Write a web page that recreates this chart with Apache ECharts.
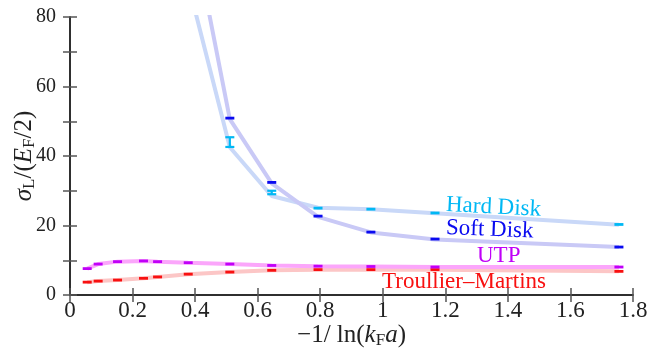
<!DOCTYPE html>
<html>
<head>
<meta charset="utf-8">
<script src="https://cdn.jsdelivr.net/npm/echarts@6/dist/echarts.min.js"></script>
<style>html,body{margin:0;padding:0;background:#fff;}#c{width:658px;height:351px;}</style>
</head>
<body>
<div id="c"></div>
<script>
// ---- data ----
var xTicks = [0, 0.2, 0.4, 0.6, 0.8, 1, 1.2, 1.4, 1.6, 1.8];
var yTicks = [0, 20, 40, 60, 80];

var xPseudo = [0.055, 0.090, 0.152, 0.235, 0.280, 0.378, 0.511, 0.645, 0.793, 0.962, 1.167, 1.755];
var utpVals = [7.6, 8.9, 9.6, 9.8, 9.6, 9.3, 8.9, 8.5, 8.3, 8.2, 8.05, 8.05];
var tmVals  = [3.7, 4.0, 4.3, 4.8, 5.2, 6.0, 6.6, 7.1, 7.3, 7.3, 7.3, 6.8];

var xDisk = [0.511, 0.645, 0.793, 0.962, 1.167, 1.755];
var hardVals = [44.0, 29.5, 25.0, 24.7, 23.6, 20.3];
var hardErr  = [1.4, 0.5, 0.3, 0.3, 0.2, 0.2];
var softVals = [50.9, 32.4, 22.7, 18.1, 16.1, 13.8];

// guide curves (extend above the plot top and are clipped)
var hardLineX = [0.39, 0.511, 0.645, 0.793, 0.962, 1.167, 1.755];
var hardLineY = [85.3, 42.5, 28.5, 25.1, 24.7, 23.5, 20.2];
var softLineX = [0.435, 0.511, 0.645, 0.793, 0.962, 1.167, 1.755];
var softLineY = [85.5, 50.6, 32.1, 22.5, 18.0, 16.0, 13.8];

var labels = {hard: 'Hard Disk', soft: 'Soft Disk', utp: 'UTP', tm: 'Troullier\u2013Martins'};

// ---- colours ----
var C = {
  hard: '#00b8f4', soft: '#0a0af0', utp: '#c000f8', tm: '#f81010',
  hardLine: '#c9d8f8', softLine: '#c9c9f6', utpLine: '#fba6fb', tmLine: '#fcc6c6'
};
var FONT = 'Liberation Serif';
var FS = 23;

function zip(xs, ys, es) {
  return xs.map(function (x, i) { return es ? [x, ys[i], es[i]] : [x, ys[i], 0]; });
}

function barRender(color) {
  return function (params, api) {
    var x = api.value(0), y = api.value(1), e = api.value(2);
    var c = api.coord([x, y]);
    var hi = api.coord([x, y + e]);
    var lo = api.coord([x, y - e]);
    var hw = 4.5;
    var children = [];
    if (Math.abs(lo[1] - hi[1]) < 3) {
      children.push({type: 'rect', shape: {x: c[0] - hw, y: c[1] - 1.4, width: 2 * hw, height: 2.8},
        style: {fill: color}});
    } else {
      children.push({type: 'rect', shape: {x: hi[0] - hw, y: hi[1] - 1.1, width: 2 * hw, height: 2.2}, style: {fill: color}});
      children.push({type: 'rect', shape: {x: lo[0] - hw, y: lo[1] - 1.1, width: 2 * hw, height: 2.2}, style: {fill: color}});
      children.push({type: 'rect', shape: {x: c[0] - 1.1, y: hi[1], width: 2.2, height: lo[1] - hi[1]}, style: {fill: color}});
    }
    return {type: 'group', children: children};
  };
}

function lineSeries(xs, ys, color) {
  return {type: 'line', xAxisIndex: 0, yAxisIndex: 0, data: zip(xs, ys), showSymbol: false, symbol: 'none',
    lineStyle: {color: color, width: 4}, silent: true, z: 1, clip: true};
}
function barSeries(xs, ys, es, color) {
  return {type: 'custom', xAxisIndex: 0, yAxisIndex: 0, data: zip(xs, ys, es), renderItem: barRender(color),
    silent: true, z: 5, clip: true};
}

var axisLineStyle = {color: '#222', width: 1.5};
var tickStyle = {color: '#555', width: 1.5};
var richTitle = {
  n: {fontFamily: FONT, fontSize: 25, color: '#222', lineHeight: 28},
  i: {fontFamily: FONT, fontSize: 25, fontStyle: 'italic', color: '#222', lineHeight: 28},
  s: {fontFamily: FONT, fontSize: 17, color: '#222', lineHeight: 14, verticalAlign: 'bottom'}
};

var chart = echarts.init(document.getElementById('c'), null, {renderer: 'canvas'});
chart.setOption({
  animation: false,
  backgroundColor: '#fff',
  grid: {left: 70, right: 25, top: 17, bottom: 56, containLabel: false, outerBoundsMode: 'none'},
  xAxis: [{
    type: 'value', min: xTicks[0], max: xTicks[xTicks.length - 1], interval: 0.2, position: 'bottom',
    axisLine: {show: true, lineStyle: axisLineStyle},
    axisTick: {show: true, inside: true, length: 7, lineStyle: tickStyle},
    splitLine: {show: false},
    axisLabel: {fontFamily: FONT, fontSize: FS, color: '#222', margin: 4,
      formatter: function (v) { return String(Math.round(v * 10) / 10); }},
    name: '{n|\u22121/ ln(}{i|k}{s|F}{i|a}{n|)}', nameLocation: 'middle', nameGap: 26, nameMoveOverlap: false,
    nameTextStyle: {fontFamily: FONT, fontSize: 25, color: '#222', rich: richTitle}
  }, {
    type: 'value', min: 0, max: 1.8, interval: 0.2, position: 'top',
    axisLine: {show: true, lineStyle: axisLineStyle},
    axisTick: {show: true, inside: true, length: 7, lineStyle: tickStyle},
    axisLabel: {show: false}, splitLine: {show: false}
  }],
  yAxis: [{
    type: 'value', min: 0, max: 80, interval: 10, position: 'left',
    axisLine: {show: true, lineStyle: axisLineStyle},
    axisTick: {show: true, inside: true, length: 7, lineStyle: tickStyle},
    splitLine: {show: false},
    axisLabel: {fontFamily: FONT, fontSize: 20, color: '#222', margin: 14,
      formatter: function (v) { return yTicks.indexOf(v) >= 0 ? String(v) : ''; }},
    name: '{i|\u03c3}{s|L}{n|/(}{i|E}{s|F}{n|/2)}', nameLocation: 'middle', nameGap: 32, nameRotate: 90, nameMoveOverlap: false,
    nameTextStyle: {fontFamily: FONT, fontSize: 25, color: '#222', rich: richTitle}
  }, {
    type: 'value', min: 0, max: 80, interval: 10, position: 'right',
    axisLine: {show: true, lineStyle: axisLineStyle},
    axisTick: {show: true, inside: true, length: 7, lineStyle: tickStyle},
    axisLabel: {show: false}, splitLine: {show: false}
  }],
  series: [
    lineSeries(xPseudo, tmVals, C.tmLine),
    lineSeries(xPseudo, utpVals, C.utpLine),
    lineSeries(hardLineX, hardLineY, C.hardLine),
    lineSeries(softLineX, softLineY, C.softLine),
    barSeries(xPseudo, tmVals, null, C.tm),
    barSeries(xPseudo, utpVals, null, C.utp),
    barSeries(xDisk, hardVals, hardErr, C.hard),
    barSeries(xDisk, softVals, null, C.soft)
  ],
  graphic: [
    {type: 'text', x: 446, y: 205, rotation: -0.05, style: {text: labels.hard, fill: C.hard, font: FS + 'px "' + FONT + '"', textAlign: 'left', textVerticalAlign: 'middle'}, z: 10},
    {type: 'text', x: 446, y: 228, rotation: -0.04, style: {text: labels.soft, fill: C.soft, font: FS + 'px "' + FONT + '"', textAlign: 'left', textVerticalAlign: 'middle'}, z: 10},
    {type: 'text', x: 477, y: 256, style: {text: labels.utp, fill: C.utp, font: FS + 'px "' + FONT + '"', textAlign: 'left', textVerticalAlign: 'middle'}, z: 10},
    {type: 'text', x: 382, y: 282, style: {text: labels.tm, fill: C.tm, font: FS + 'px "' + FONT + '"', textAlign: 'left', textVerticalAlign: 'middle'}, z: 10}
  ]
});
</script>
</body>
</html>
